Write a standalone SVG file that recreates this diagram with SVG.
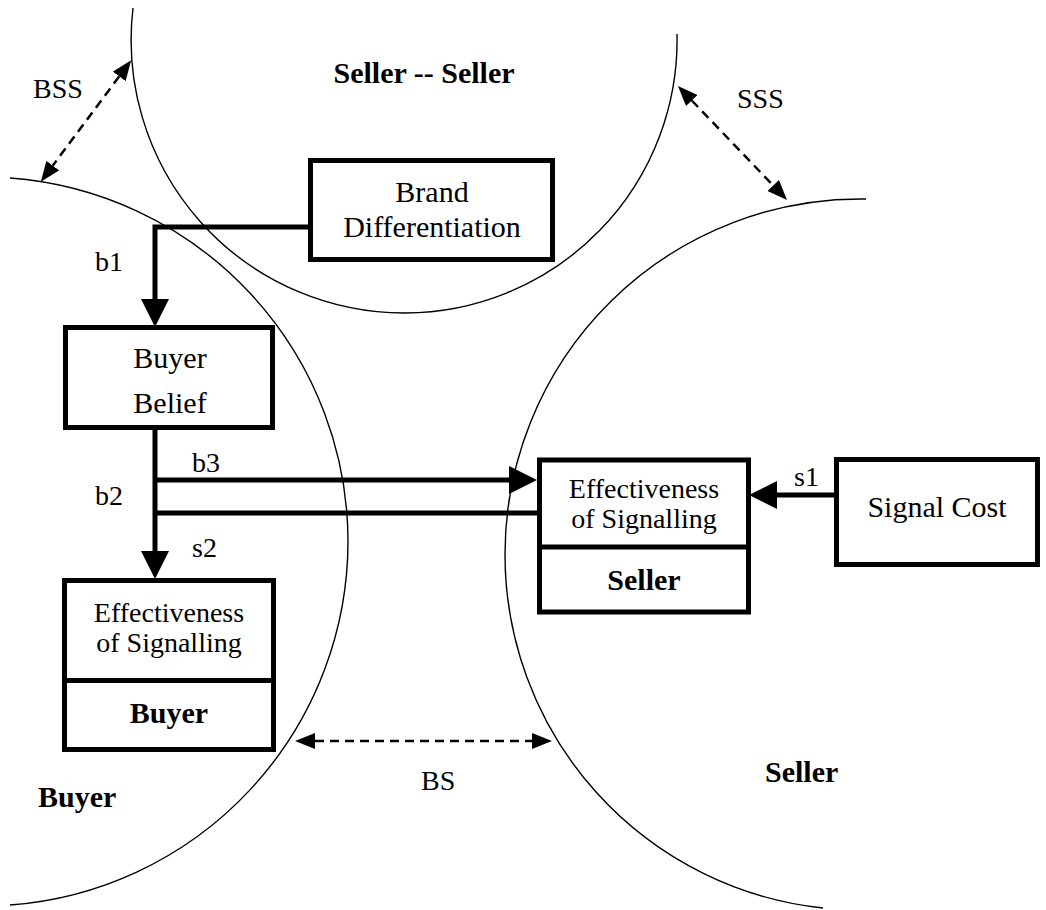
<svg xmlns="http://www.w3.org/2000/svg" width="1046" height="910" viewBox="0 0 1046 910">
<defs>
<style>
.arc{fill:none;stroke:#000;stroke-width:1.4}
.box{fill:#fff;stroke:#000;stroke-width:5}
.t{font-family:"Liberation Serif","Times New Roman",serif;font-size:30px;fill:#000}
.b{font-weight:bold}
.s28{font-size:28px}
.conn{fill:none;stroke:#000;stroke-width:5}
.dash{fill:none;stroke:#000;stroke-width:2.5;stroke-dasharray:9 6}
</style>
<marker id="ah" markerUnits="userSpaceOnUse" viewBox="0 0 28 28" markerWidth="28" markerHeight="28" refX="0" refY="14" orient="auto"><path d="M0,0 L28,14 L0,28 z" fill="#000"/></marker>
<marker id="dh" markerUnits="userSpaceOnUse" viewBox="0 -8 20 16" markerWidth="20" markerHeight="16" refX="0" refY="0" orient="auto-start-reverse"><path d="M0,-8 L20,0 L0,8 z" fill="#000"/></marker>
</defs>
<rect width="1046" height="910" fill="#fff"/>

<g id="regions">
<path class="arc" d="M133,8 A273,273 0 0 0 405,313 A273,273 0 0 0 677,34"/>
<path class="arc" d="M10,178 A365,365 0 0 1 348,541 A365,365 0 0 1 10,905"/>
<path class="arc" d="M866,199 A355.5,355.5 0 0 0 505,554 A355.5,355.5 0 0 0 823,908"/>
<text class="t b" x="424" y="83" text-anchor="middle">Seller -- Seller</text>
<text class="t b" x="38" y="807">Buyer</text>
<text class="t b" x="765" y="782">Seller</text>
</g>

<g id="connectors">
<path class="conn" d="M308,227 H155 V299" marker-end="url(#ah)"/>
<path class="conn" d="M155,430 V551" marker-end="url(#ah)"/>
<path class="conn" d="M155,480 H509" marker-end="url(#ah)"/>
<path class="conn" d="M155,513 H537"/>
<path class="conn" d="M836,495 H777" marker-end="url(#ah)"/>
<path class="dash" d="M119.2,76.4 L52.8,165.6" marker-start="url(#dh)" marker-end="url(#dh)"/>
<path class="dash" d="M691.8,100.5 L773.2,185.5" marker-start="url(#dh)" marker-end="url(#dh)"/>
<path class="dash" d="M315,741 H532" marker-start="url(#dh)" marker-end="url(#dh)"/>
<text class="t s28" x="95" y="271">b1</text>
<text class="t s28" x="95" y="505">b2</text>
<text class="t s28" x="192" y="472">b3</text>
<text class="t s28" x="192" y="557">s2</text>
<text class="t s28" x="794" y="486">s1</text>
<text class="t s28" x="33" y="98">BSS</text>
<text class="t s28" x="737" y="108">SSS</text>
<text class="t s28" x="421" y="790">BS</text>
</g>

<g id="node-brand">
<rect class="box" x="310.5" y="160.5" width="242" height="99"/>
<text class="t" x="432" y="202" text-anchor="middle">Brand</text>
<text class="t" x="432" y="237" text-anchor="middle">Differentiation</text>
</g>

<g id="node-belief">
<rect class="box" x="65.5" y="327.5" width="207" height="100"/>
<text class="t" x="170" y="368" text-anchor="middle">Buyer</text>
<text class="t" x="170" y="413" text-anchor="middle">Belief</text>
</g>

<g id="node-eff-buyer">
<rect class="box" x="64.5" y="580.5" width="209" height="169"/>
<line class="box" x1="64.5" y1="680.5" x2="273.5" y2="680.5"/>
<text class="t s28" x="169" y="622" text-anchor="middle">Effectiveness</text>
<text class="t s28" x="169" y="652" text-anchor="middle">of Signalling</text>
<text class="t b" x="169" y="723" text-anchor="middle">Buyer</text>
</g>

<g id="node-eff-seller">
<rect class="box" x="539.5" y="460" width="209" height="152"/>
<line class="box" x1="539.5" y1="547" x2="748.5" y2="547"/>
<text class="t s28" x="644" y="498" text-anchor="middle">Effectiveness</text>
<text class="t s28" x="644" y="528" text-anchor="middle">of Signalling</text>
<text class="t b" x="644" y="590" text-anchor="middle">Seller</text>
</g>

<g id="node-cost">
<rect class="box" x="836.5" y="459.5" width="201" height="105"/>
<text class="t" x="937" y="517" text-anchor="middle">Signal Cost</text>
</g>
</svg>
